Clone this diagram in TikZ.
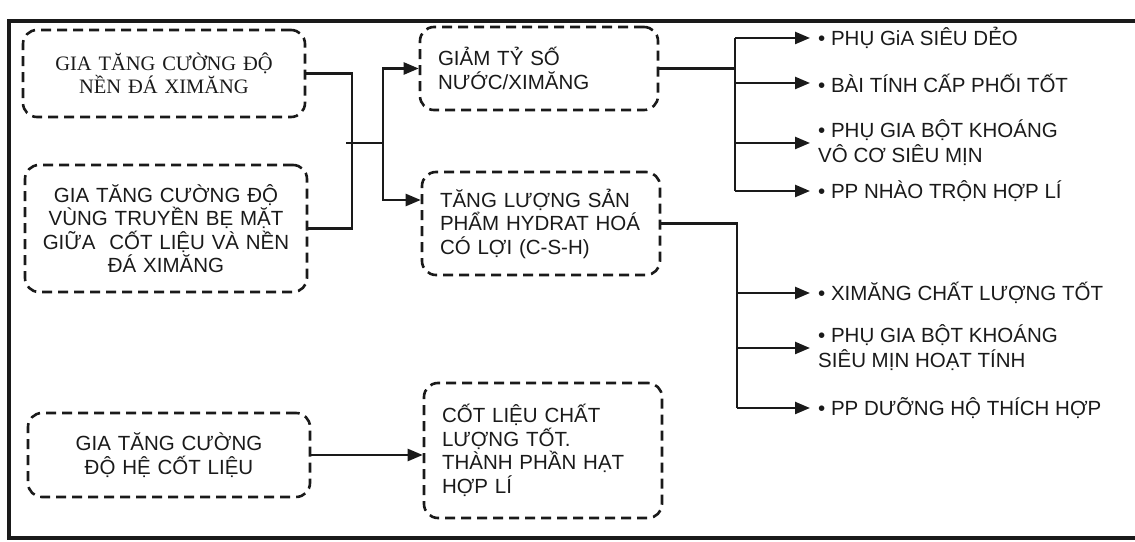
\documentclass[tikz,border=0pt]{standalone}
\usepackage{fontspec}
\setmainfont{Liberation Serif}
\setsansfont{Liberation Sans}
\usetikzlibrary{arrows.meta, positioning, calc}
\definecolor{inkline}{HTML}{1A1A1A}

\begin{document}
\begin{tikzpicture}[
        x=1pt, y=1pt,
        stagebox/.style={
            draw=inkline,
            text=inkline,
            dash pattern=on 10pt off 6pt,
            line width=2.6pt,
            rounded corners=14pt,
            font=\sffamily\fontsize{20.5}{23.5}\selectfont
        },
        causebox/.style={stagebox, align=center, minimum width=282pt, text width=266pt},
        effectbox/.style={stagebox, align=left, minimum width=238pt, inner xsep=18pt, text width=202pt},
        measure/.style={anchor=west, align=left, inner xsep=8pt, text=inkline,
            font=\sffamily\fontsize{20.5}{25}\selectfont},
        link/.style={line width=2.4pt, draw=inkline},
        flow/.style={link, -{Triangle[length=15pt, width=12pt]}}
    ]
        \useasboundingbox[fill=white] (0,0) rectangle (1135,541);
        \draw[line width=3.5pt, inkline] (1140,520) -| (9,3) -- (1140,3);

        \node[causebox, minimum height=87pt, font=\rmfamily\fontsize{20.5}{21}\selectfont]
            (strengthmatrix) at (164,467.5) {GIA TĂNG CƯỜNG ĐỘ\\NỀN ĐÁ XIMĂNG};
        \node[causebox, minimum height=127pt] (strengthzone) at (166,312.5)
            {GIA TĂNG CƯỜNG ĐỘ\\VÙNG TRUYỀN BẸ MẶT\\GIỮA\ \ CỐT LIỆU VÀ NỀN\\ĐÁ XIMĂNG};
        \node[causebox, minimum height=84pt] (strengthaggr) at (169,86)
            {GIA TĂNG CƯỜNG\\ĐỘ HỆ CỐT LIỆU};

        \node[effectbox, minimum height=83pt] (lowerratio) at (539,472.5)
            {GIẢM TỶ SỐ\\NƯỚC/XIMĂNG};
        \node[effectbox, minimum height=103pt] (morehydrate) at (541,317.5)
            {TĂNG LƯỢNG SẢN\\PHẨM HYDRAT HOÁ\\CÓ LỢI (C-S-H)};
        \node[effectbox, minimum height=135pt] (goodaggr) at (543,90.5)
            {CỐT LIỆU CHẤT\\LƯỢNG TỐT.\\THÀNH PHẦN HẠT\\HỢP LÍ};

        \node[measure] (superplast) at (810,503) {• PHỤ GiA SIÊU DẺO};
        \node[measure] (mixdesign) at (810,458) {• BÀI TÍNH CẤP PHỐI TỐT};
        \node[measure] (inertfines) at (810,398) {• PHỤ GIA BỘT KHOÁNG\\VÔ CƠ SIÊU MỊN};
        \node[measure] (mixing) at (810,350) {• PP NHÀO TRỘN HỢP LÍ};
        \node[measure] (cement) at (810,248) {• XIMĂNG CHẤT LƯỢNG TỐT};
        \node[measure] (activefines) at (810,193) {• PHỤ GIA BỘT KHOÁNG\\SIÊU MỊN HOẠT TÍNH};
        \node[measure] (curing) at (810,133) {• PP DƯỠNG HỘ THÍCH HỢP};

        \coordinate (merge) at (352,398);
        \coordinate (split) at (383,398);
        \coordinate (busratio) at (735,0);
        \coordinate (bushydrate) at (737,0);

        \draw[link] (strengthmatrix.east) -| (merge) |- (strengthzone.east);
        \draw[link] ([xshift=-6pt]merge) -- (split);
        \draw[flow] (split) |- (lowerratio.west);
        \draw[flow] (split) |- ([yshift=23.5pt]morehydrate.west);

        \draw[link] (lowerratio.east) -- (lowerratio.east -| busratio);
        \draw[link] (superplast.west -| busratio) -- (mixing.west -| busratio);
        \foreach \target in {superplast, mixdesign, inertfines, mixing}
            \draw[flow] (\target.west -| busratio) -- (\target.west);

        \draw[link] (morehydrate.east) -| (bushydrate |- curing.west);
        \foreach \target in {cement, activefines, curing}
            \draw[flow] (\target.west -| bushydrate) -- (\target.west);

        \draw[flow] (strengthaggr.east) -- (strengthaggr.east -| goodaggr.west);
    \end{tikzpicture}
\end{document}
